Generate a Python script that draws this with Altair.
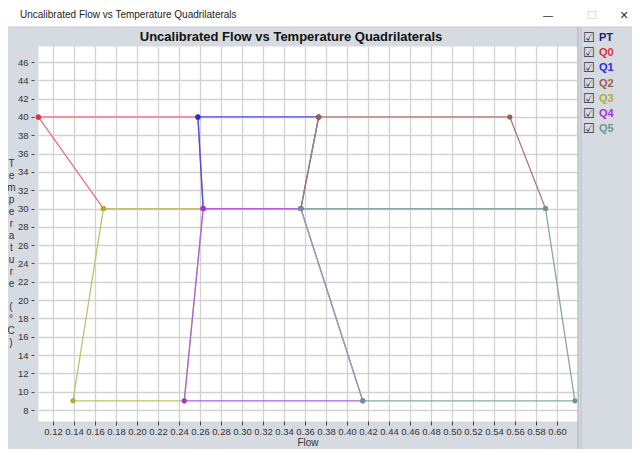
import altair as alt
import pandas as pd

# ---------------- data ----------------
series = ["PT", "Q0", "Q1", "Q2", "Q3", "Q4", "Q5"]
series_colors = ["#1c2270", "#e0303c", "#2a2ae6", "#9c5e4c", "#b0b028", "#a632d8", "#6e9494"]
line_colors = ["#1c2270", "#e8707c", "#4c4ce6", "#a67e74", "#c0c070", "#b060e0", "#8aa6a6"]

# quadrilateral vertices (flow, temperature), closed polygons
q0_flow = [0.106, 0.258, 0.263, 0.168, 0.106]
q0_temp = [40, 40, 30, 30, 40]
q1_flow = [0.258, 0.373, 0.356, 0.263, 0.258]
q1_temp = [40, 40, 30, 30, 40]
q2_flow = [0.373, 0.555, 0.589, 0.356, 0.373]
q2_temp = [40, 40, 30, 30, 40]
q3_flow = [0.168, 0.263, 0.245, 0.139, 0.168]
q3_temp = [30, 30, 9, 9, 30]
q4_flow = [0.263, 0.356, 0.415, 0.245, 0.263]
q4_temp = [30, 30, 9, 9, 30]
q5_flow = [0.356, 0.589, 0.617, 0.415, 0.356]
q5_temp = [30, 30, 9, 9, 30]

x_ticks = [round(0.12 + 0.02 * i, 2) for i in range(25)]
y_ticks = list(range(8, 48, 2))

chart_title = "Uncalibrated Flow vs Temperature Quadrilaterals"
window_title = "Uncalibrated Flow vs Temperature Quadrilaterals"
x_title = "Flow"
y_title_word = list("Temperature")
y_title_unit = ["(", "°", "C", ")"]

# ---------------- build table ----------------
quads = {
    "Q0": (q0_flow, q0_temp),
    "Q1": (q1_flow, q1_temp),
    "Q2": (q2_flow, q2_temp),
    "Q3": (q3_flow, q3_temp),
    "Q4": (q4_flow, q4_temp),
    "Q5": (q5_flow, q5_temp),
}
point_color_of = dict(zip(series, series_colors))
line_color_of = dict(zip(series, line_colors))
rows = []
for name, (fl, tp) in quads.items():
    for i, (f, t) in enumerate(zip(fl, tp)):
        rows.append({"series": name, "ord": i, "flow": f, "temp": t,
                     "pcolor": point_color_of[name]})
df = pd.DataFrame(rows)
legend_df = pd.DataFrame({"series": series, "box": ["☑"] * len(series),
                          "lcolor": series_colors})
dummy = pd.DataFrame({"k": [0]})

FONT = "Liberation Sans"
LINE_H = 12
TOP = 38  # top padding (plot origin offset)
DY = 39 - TOP  # shift for decorations placed relative to the window

x_enc = alt.X(
    "flow:Q",
    scale=alt.Scale(domain=[0.1057, 0.619], nice=False, zero=False),
    axis=alt.Axis(
        values=x_ticks, tickCount=len(x_ticks), format=".2f", title=x_title,
        grid=True, gridColor="#d2d2d2", gridWidth=1.3, domain=False,
        tickColor="#444", tickSize=4, offset=0, labelPadding=1,
        labelFontSize=9.5, labelColor="#333", labelFont=FONT,
        labelOverlap=False, labelFlush=False,
        titleFontSize=10, titleFontWeight="normal", titleColor="#333",
        titleFont=FONT, titlePadding=2,
    ),
)
y_enc = alt.Y(
    "temp:Q",
    scale=alt.Scale(domain=[6.8, 47.75], nice=False, zero=False),
    axis=alt.Axis(
        values=y_ticks, tickCount=len(y_ticks), title=y_title_word,
        grid=True, gridColor="#d2d2d2", gridWidth=1.3, domain=False,
        tickColor="#444", tickSize=3, offset=4, labelPadding=3,
        labelFontSize=9.5, labelColor="#333", labelFont=FONT,
        labelOverlap=False, labelFlush=False,
        titleFontSize=10, titleFontWeight="normal", titleColor="#333",
        titleFont=FONT, titleAngle=0, titleX=-23, titleY=112,
        titleAlign="center", titleBaseline="top", titleLineHeight=LINE_H,
    ),
)

line_layers = []
for k, name in enumerate(quads.keys()):
    enc_x = x_enc if k == 0 else alt.X("flow:Q")
    enc_y = y_enc if k == 0 else alt.Y("temp:Q")
    line_layers.append(
        alt.Chart(df).transform_filter(alt.datum.series == name)
        .mark_line(strokeWidth=1.3, color=line_color_of[name])
        .encode(x=enc_x, y=enc_y, order="ord:Q")
    )
points = alt.Chart(df).mark_circle(size=26, opacity=1).encode(
    x="flow:Q", y="temp:Q",
    color=alt.Color("pcolor:N", scale=None, legend=None),
)
main = alt.layer(*line_layers, points)

# unit part of the stacked y-axis title, one blank line below "Temperature"
y_unit_text = alt.Chart(dummy).mark_text(
    text=y_title_unit, font=FONT, fontSize=10, align="center", baseline="top",
    lineHeight=LINE_H, color="#333"
).encode(x=alt.value(-27), y=alt.value(112 + LINE_H * (len(y_title_word) + 1)))

leg_y = alt.Y("series:N", axis=None,
              scale=alt.Scale(type="point", domain=series,
                              range=[-9 + DY, 82 + DY], padding=0))
legend_box = alt.Chart(legend_df).mark_text(
    font="DejaVu Sans", fontSize=13, align="left", baseline="middle", color="#2a2f45"
).encode(x=alt.value(545), y=leg_y, text="box:N")
legend_lbl = alt.Chart(legend_df).mark_text(
    font=FONT, fontSize=11, fontWeight="bold", align="left", baseline="middle"
).encode(
    x=alt.value(561), y=leg_y, text="series:N",
    color=alt.Color("lcolor:N", scale=None, legend=None),
)

# window decorations
title_bar = alt.Chart(dummy).mark_rect(color="white").encode(
    x=alt.value(-40), x2=alt.value(610), y=alt.value(-50), y2=alt.value(-20 + DY)
)
panel_top = alt.Chart(dummy).mark_rule(color="#c4c8d0", strokeWidth=1).encode(
    x=alt.value(-40), x2=alt.value(610), y=alt.value(-20 + DY)
)
divider1 = alt.Chart(dummy).mark_rule(color="#a9adb5", strokeWidth=1).encode(
    x=alt.value(540), y=alt.value(-20 + DY), y2=alt.value(420)
)
divider2 = alt.Chart(dummy).mark_rule(color="#b9bdc5", strokeWidth=1).encode(
    x=alt.value(543), y=alt.value(-20 + DY), y2=alt.value(420)
)
title_text = alt.Chart(dummy).mark_text(
    text=chart_title, font=FONT, fontSize=13, fontWeight="bold", align="center",
    baseline="alphabetic", color="#111"
).encode(x=alt.value(253), y=alt.value(-6 + DY))
win_text = alt.Chart(dummy).mark_text(
    text=window_title, font=FONT, fontSize=10, align="left", baseline="middle", color="#222"
).encode(x=alt.value(-18), y=alt.value(-32 + DY))
btn_min = alt.Chart(dummy).mark_text(
    text="—", font=FONT, fontSize=10, align="center", baseline="middle", color="#333"
).encode(x=alt.value(510), y=alt.value(-31 + DY))
btn_max = alt.Chart(dummy).mark_text(
    text="☐", font="DejaVu Sans", fontSize=11, align="center", baseline="middle", color="#c8c8c8"
).encode(x=alt.value(554), y=alt.value(-31 + DY))
btn_close = alt.Chart(dummy).mark_text(
    text="✕", font="DejaVu Sans", fontSize=11, align="center", baseline="middle", color="#333"
).encode(x=alt.value(586), y=alt.value(-31 + DY))

chart = alt.layer(
    title_bar, panel_top, divider1, divider2,
    main, y_unit_text, legend_box, legend_lbl,
    title_text, win_text, btn_min, btn_max, btn_close,
).resolve_scale(y="independent").properties(
    width=539, height=375,
    autosize=alt.AutoSizeParams(type="none"),
    padding={"left": 30, "top": TOP, "right": 55, "bottom": 441 - TOP - 375},
    background="#d6dae1",
).configure_view(fill="white", strokeOpacity=0)

chart.save("out.html", embed_options={"renderer": "svg", "actions": False})
